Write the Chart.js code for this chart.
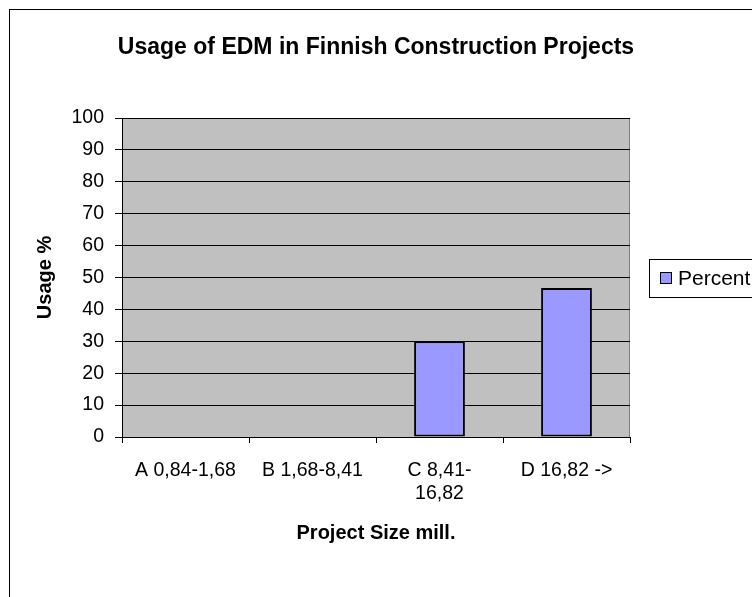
<!DOCTYPE html>
<html>
<head>
<meta charset="utf-8">
<script src="https://cdn.jsdelivr.net/npm/chart.js@4/dist/chart.umd.min.js"></script>
<style>
  html, body { margin: 0; padding: 0; background: #fff; }
  #wrap { position: relative; width: 752px; height: 597px; overflow: hidden; }
  #frame { position: absolute; left: 9px; top: 9px; width: 800px; height: 700px;
           border-left: 1px solid #000; border-top: 1px solid #000; pointer-events: none; }
  canvas { position: absolute; left: 0; top: 0; }
</style>
</head>
<body>
<div id="wrap">
  <canvas id="c" width="752" height="597"></canvas>
  <div id="frame"></div>
</div>
<script>
// Dữ liệu
const categories = [['A 0,84-1,68'], ['B 1,68-8,41'], ['C 8,41-', '16,82'], ['D 16,82 ->']];
const seriesLabel = 'Percent';
const percentValues = [0, 0, 30, 46.7];
const yTicks = [0, 10, 20, 30, 40, 50, 60, 70, 80, 90, 100];
const chartTitle = 'Usage of EDM in Finnish Construction Projects';

const FONT = 'Arial, "Liberation Sans", sans-serif';
const C = { bar: '#9999FF', plot: '#C0C0C0', plotEdge: '#808080', ink: '#000' };

// nền xám + viền vùng vẽ kiểu Excel
const plotBg = {
  id: 'plotBg',
  beforeDraw(chart) {
    const { ctx, chartArea: a } = chart;
    ctx.save();
    ctx.fillStyle = C.plot;
    ctx.fillRect(a.left, a.top, a.right - a.left, a.bottom - a.top);
    ctx.strokeStyle = C.plotEdge;
    ctx.lineWidth = 1;
    ctx.strokeRect(a.left + 0.5, a.top + 0.5, a.right - a.left - 1, a.bottom - a.top);
    ctx.restore();
  },
};

// tiêu đề canh giữa cả khung (title của Chart.js canh theo vùng trừ padding phải)
const centerTitle = {
  id: 'centerTitle',
  afterDraw(chart) {
    const { ctx } = chart;
    ctx.save();
    ctx.fillStyle = C.ink;
    ctx.font = 'bold 23px ' + FONT;
    ctx.textAlign = 'center';
    ctx.textBaseline = 'middle';
    ctx.fillText(chartTitle, 376, 48);
    ctx.restore();
  },
};

// chú giải có khung, tự vẽ để đặt đúng chỗ
const boxLegend = {
  id: 'boxLegend',
  afterDraw(chart) {
    const { ctx } = chart;
    const ds = chart.data.datasets[0];
    ctx.save();
    ctx.strokeStyle = C.ink;
    ctx.lineWidth = 1;
    ctx.strokeRect(649.5, 259.5, 120, 38);
    ctx.fillStyle = ds.backgroundColor;
    ctx.fillRect(660, 272, 12, 12);
    ctx.strokeRect(660.5, 272.5, 11, 11);
    ctx.fillStyle = C.ink;
    ctx.font = '21px ' + FONT;
    ctx.textBaseline = 'middle';
    ctx.fillText(ds.label, 678, 279);
    ctx.restore();
  },
};

new Chart(document.getElementById('c'), {
  type: 'bar',
  data: {
    labels: categories,
    datasets: [{
      label: seriesLabel,
      data: percentValues,
      backgroundColor: C.bar,
      borderColor: C.ink,
      borderWidth: 2,
      borderSkipped: false,
      barPercentage: 0.4,
      categoryPercentage: 1,
    }],
  },
  options: {
    responsive: false,
    animation: false,
    devicePixelRatio: 1,
    layout: { padding: { top: 118, left: 25, right: 122, bottom: 50 } },
    plugins: {
      legend: { display: false },
      tooltip: { enabled: false },
      title: { display: false },
    },
    scales: {
      x: {
        offset: true,
        grid: { offset: true, drawOnChartArea: false, drawTicks: true, tickLength: 6, color: C.ink },
        border: { color: C.ink },
        ticks: { color: C.ink, padding: 16, maxRotation: 0, autoSkip: false,
          font: { family: FONT, size: 19.5, lineHeight: 1.2 } },
        title: { display: true, text: 'Project Size mill.', color: C.ink,
          font: { family: FONT, size: 20, weight: 'bold', lineHeight: 1.2 },
          padding: { top: 0, bottom: 2 } },
        afterFit(s) { s.height = 110; },
      },
      y: {
        min: 0, max: 100,
        afterBuildTicks(s) { s.ticks = yTicks.map((v) => ({ value: v })); },
        grid: { color: C.ink, tickLength: 7 },
        border: { color: C.ink },
        ticks: { color: C.ink, padding: 11, font: { family: FONT, size: 19.5 } },
        title: { display: true, text: 'Usage %', color: C.ink,
          font: { family: FONT, size: 20, weight: 'bold', lineHeight: 1.2 },
          padding: { top: 8, bottom: 0 } },
        afterFit(s) { s.width = 97; },
      },
    },
  },
  plugins: [plotBg, centerTitle, boxLegend],
});
</script>
</body>
</html>
